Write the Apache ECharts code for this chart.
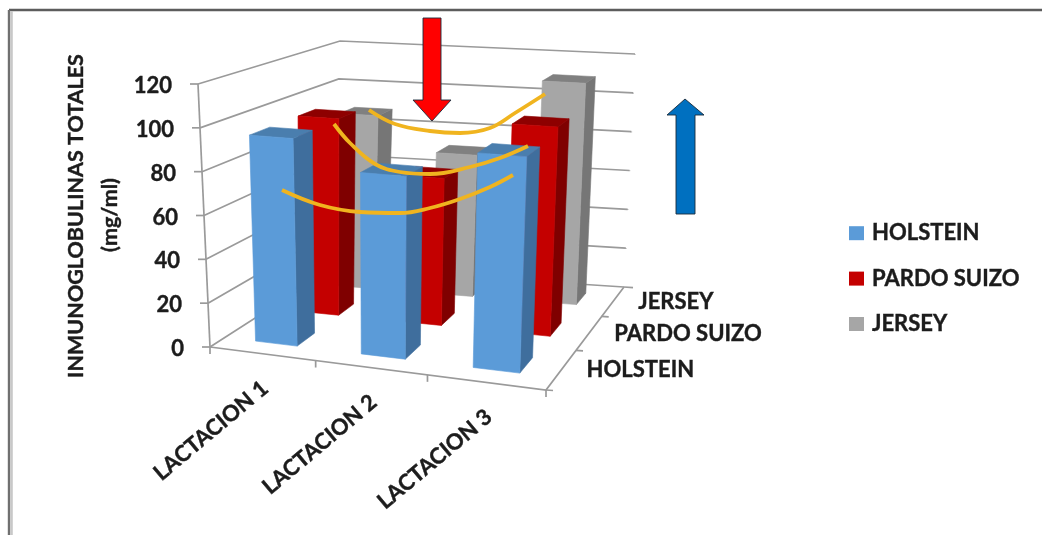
<!DOCTYPE html>
<html>
<head>
<meta charset="utf-8">
<style>html,body{margin:0;padding:0;background:#fff}#chart{width:1042px;height:535px}</style>
<script src="https://cdn.jsdelivr.net/npm/echarts@6/dist/echarts.min.js"></script>
</head>
<body>
<div id="chart"></div>
<script>
// Immunoglobulin levels per lactation and breed
const lactations = ['LACTACION 1', 'LACTACION 2', 'LACTACION 3'];
const breeds = ['HOLSTEIN', 'PARDO SUIZO', 'JERSEY'];
const holsteinValues = [95, 82, 95];
const pardoValues = [95, 70, 98];
const jerseyValues = [88, 71, 110];
const valueTicks = [0, 20, 40, 60, 80, 100, 120];

// Hand-drawn trend curves, in page units
const jerseyTrend = [[369,110],[395,124],[430,131],[460,133],[490,128],[515,113],[545,94]];
const pardoTrend = [[334,124],[350,143],[375,164],[400,172],[430,174],[470,167],[500,158],[528,146]];
const holsteinTrend = [[282,190],[320,205],[360,212],[400,213],[430,208],[460,199],[490,187],[513,175]];

const FONT = 'Lato, "Open Sans", sans-serif';
const TEXT_FONT = 'bold 22px ' + FONT;
const INK = '#1c1c1c';
const GRID = '#9a9a9a';
const TEXT_WEIGHT = { stroke: INK, lineWidth: 0.4 };

const PALETTE = {
  'HOLSTEIN': { front: '#5b9bd8', side: '#3f6e9d', top: '#4a7eae' },
  'PARDO SUIZO': { front: '#c40000', side: '#7f0000', top: '#8e0000' },
  'JERSEY': { front: '#a6a6a6', side: '#767676', top: '#808080' }
};

// Screen corners of the plot box: first letter = left/right, second = near/far, third = bottom/top
const BOX = {
  lnb: [210, 347], rnb: [546, 390], rfb: [624, 287], lfb: [333, 268],
  lnt: [198, 84], rnt: [557, 109], rft: [635, 54], lft: [340, 41]
};
const X_PERSPECTIVE = 1.09;
const DEPTH_PERSPECTIVE = 0.8;

function warp(t, r) { return t / (t + (1 - t) * r); }
function bilinear(a, b, c, d, s, t) {
  const f = i => a[i] * (1 - s) * (1 - t) + b[i] * s * (1 - t) + c[i] * s * t + d[i] * (1 - s) * t;
  return [f(0), f(1)];
}

// Takes a position on the hidden cartesian scales plus a depth in rows (0..3)
// and projects it onto the box drawn in perspective.
function project(params, api, x, depth, value) {
  const rect = params.coordSys;
  const p = api.coord([x, value]);
  const u = warp((p[0] - rect.x) / rect.width, X_PERSPECTIVE);
  const v = 1 - (p[1] - rect.y) / rect.height;
  const w = warp(depth / 3, DEPTH_PERSPECTIVE);
  const lo = bilinear(BOX.lnb, BOX.rnb, BOX.rfb, BOX.lfb, u, w);
  const hi = bilinear(BOX.lnt, BOX.rnt, BOX.rft, BOX.lft, u, w);
  return [lo[0] + (hi[0] - lo[0]) * v, lo[1] + (hi[1] - lo[1]) * v];
}

function line(points, width) {
  return { type: 'polyline', shape: { points }, style: { fill: null, stroke: GRID, lineWidth: width || 1.7 } };
}
function face(points, fill) {
  return { type: 'polygon', shape: { points }, style: { fill, stroke: fill, lineWidth: 0.6 } };
}

function barSeries(name, values) {
  const row = breeds.indexOf(name);
  const colors = PALETTE[name];
  return {
    type: 'custom', name, coordinateSystem: 'cartesian2d', xAxisIndex: 0, yAxisIndex: 0,
    itemStyle: { color: colors.front },
    silent: true,
    data: values.map((v, i) => [i, v]),
    encode: { x: 0, y: 1 },
    renderItem(params, api) {
      const i = api.value(0), val = api.value(1);
      const x0 = i + 0.3, x1 = i + 0.7, d0 = row + 0.3, d1 = row + 0.7;
      const P = (x, d, v) => project(params, api, x, d, v);
      return {
        type: 'group',
        children: [
          face([P(x1, d0, 0), P(x1, d1, 0), P(x1, d1, val), P(x1, d0, val)], colors.side),
          face([P(x0, d0, val), P(x1, d0, val), P(x1, d1, val), P(x0, d1, val)], colors.top),
          face([P(x0, d0, 0), P(x1, d0, 0), P(x1, d0, val), P(x0, d0, val)], colors.front)
        ]
      };
    }
  };
}

// Wall gridlines, axis lines and ticks
const wallSeries = {
  type: 'custom', coordinateSystem: 'cartesian2d', xAxisIndex: 0, yAxisIndex: 0, silent: true,
  data: valueTicks.map(v => [0, v]),
  encode: { x: 0, y: 1 },
  renderItem(params, api) {
    const v = api.value(1);
    const P = (x, d) => project(params, api, x, d, v);
    const a = P(0, 0), b = P(0, 3), c = P(3, 3);
    return {
      type: 'group',
      children: [
        line([a, b, c]),
        line([[a[0] - 8, a[1]], a]),
        line([c, [c[0] + (v === 0 ? 9 : 0), c[1] + 0.6]])
      ]
    };
  }
};

const floorSeries = {
  type: 'custom', coordinateSystem: 'cartesian2d', xAxisIndex: 0, yAxisIndex: 0, silent: true,
  data: [[0, 0]],
  encode: { x: 0, y: 1 },
  renderItem(params, api) {
    const P = (x, d, v) => project(params, api, x, d, v);
    const children = [
      line([P(0, 0, 0), P(0, 0, 120)]),
      line([P(0, 0, 0), P(3, 0, 0), P(3, 3, 0)])
    ];
    [0, 1, 2, 3].forEach(i => {
      const t = P(i, 0, 0);
      children.push(line([t, [t[0], t[1] + 7]]));
    });
    [0, 1, 2].forEach(d => {
      const t = P(3, d, 0);
      children.push(line([t, [t[0] + 7, t[1] + 0.5]]));
    });
    return { type: 'group', children };
  }
};

// Axis text, kept on the slanted axes
const valueLabelSeries = {
  type: 'custom', coordinateSystem: 'cartesian2d', xAxisIndex: 0, yAxisIndex: 0, silent: true,
  data: valueTicks.map(v => [0, v]),
  encode: { x: 0, y: 1 },
  renderItem(params, api) {
    const v = api.value(1);
    const p = project(params, api, 0, 0, v);
    return {
      type: 'text',
      style: Object.assign({ text: String(v), x: p[0] - 26, y: p[1] + 2, fill: INK, font: TEXT_FONT, align: 'right', verticalAlign: 'middle' }, TEXT_WEIGHT)
    };
  }
};
const lactationLabelSeries = {
  type: 'custom', coordinateSystem: 'cartesian2d', xAxisIndex: 0, yAxisIndex: 0, silent: true,
  data: lactations.map((c, i) => [i, 0]),
  encode: { x: 0, y: 1 },
  renderItem(params, api) {
    const i = api.value(0);
    const p = project(params, api, i + 0.5, 0, 0);
    return {
      type: 'text', x: p[0] - 51, y: p[1] + 77, rotation: 40 * Math.PI / 180,
      style: Object.assign({ text: lactations[i], x: 0, y: 0, fill: INK, font: TEXT_FONT, align: 'center', verticalAlign: 'middle' }, TEXT_WEIGHT)
    };
  }
};
const breedLabelSeries = {
  type: 'custom', coordinateSystem: 'cartesian2d', xAxisIndex: 0, yAxisIndex: 0, silent: true,
  data: breeds.map((c, i) => [3, i]),
  encode: { x: 0 },
  renderItem(params, api) {
    const d = params.dataIndex;
    const p = project(params, api, 3, d + 0.5, 0);
    return {
      type: 'text',
      style: Object.assign({ text: breeds[d], x: p[0] + 25, y: p[1] + 1, fill: INK, font: TEXT_FONT, align: 'left', verticalAlign: 'middle' }, TEXT_WEIGHT)
    };
  }
};

function trendSeries(points) {
  return {
    type: 'line', xAxisIndex: 1, yAxisIndex: 1, data: points, smooth: 0.4, symbol: 'none', silent: true,
    lineStyle: { color: '#f0b41f', width: 3.8 }, z: 5
  };
}

const arrowStyle = { stroke: '#1a2a3a', lineWidth: 0.9 };
const TITLE_FONT = 'bold 21.5px ' + FONT;

const option = {
  animation: false,
  backgroundColor: '#ffffff',
  grid: [
    { left: 100, top: 50, width: 400, height: 300 },
    { left: 0, top: 0, right: 0, bottom: 0 }
  ],
  xAxis: [
    { type: 'value', min: 0, max: 3, show: false, gridIndex: 0 },
    { type: 'value', min: 0, max: 1042, show: false, gridIndex: 1 }
  ],
  yAxis: [
    { type: 'value', min: 0, max: 120, interval: 20, show: false, gridIndex: 0 },
    { type: 'value', min: 0, max: 535, inverse: true, show: false, gridIndex: 1 }
  ],
  legend: {
    orient: 'vertical', left: 844, top: 217, icon: 'rect', itemWidth: 15, itemHeight: 14, itemGap: 23,
    data: breeds, selectedMode: false,
    textStyle: { color: INK, fontFamily: FONT, fontWeight: 'bold', fontSize: 22, padding: [0, 0, 0, 3], textBorderColor: INK, textBorderWidth: 0.4 }
  },
  graphic: [
    // outer frame
    { type: 'line', z: 1, shape: { x1: 9, y1: 10, x2: 1042, y2: 10 }, style: { stroke: '#5c5c5c', lineWidth: 2.4 } },
    { type: 'line', z: 1, shape: { x1: 9, y1: 10, x2: 9, y2: 535 }, style: { stroke: '#707070', lineWidth: 2.4 } },
    { type: 'line', z: 1, shape: { x1: 11.5, y1: 11, x2: 11.5, y2: 535 }, style: { stroke: '#c8c8c8', lineWidth: 2.6 } },
    // axis title
    { type: 'text', z: 6, x: 76, y: 216, rotation: Math.PI / 2, style: Object.assign({ text: 'INMUNOGLOBULINAS TOTALES', fill: INK, font: TITLE_FONT, align: 'center', verticalAlign: 'middle' }, TEXT_WEIGHT) },
    { type: 'text', z: 6, x: 110, y: 215, rotation: Math.PI / 2, style: Object.assign({ text: '(mg/ml)', fill: INK, font: TITLE_FONT, align: 'center', verticalAlign: 'middle' }, TEXT_WEIGHT) },
    // red arrow: fall in the second lactation
    { type: 'polygon', z: 6, shape: { points: [[423, 18], [441, 18], [441, 100], [451, 100], [432, 121], [413, 100], [423, 100]] }, style: Object.assign({ fill: '#ff0000' }, arrowStyle) },
    // blue arrow: rise towards the third
    { type: 'polygon', z: 6, shape: { points: [[685, 99], [704, 115], [695, 115], [695, 214], [676, 214], [676, 115], [667, 115]] }, style: Object.assign({ fill: '#0070c0' }, arrowStyle) }
  ],
  series: [
    wallSeries,
    floorSeries,
    barSeries('JERSEY', jerseyValues),
    barSeries('PARDO SUIZO', pardoValues),
    barSeries('HOLSTEIN', holsteinValues),
    valueLabelSeries,
    lactationLabelSeries,
    breedLabelSeries,
    trendSeries(jerseyTrend),
    trendSeries(pardoTrend),
    trendSeries(holsteinTrend)
  ]
};

const chart = echarts.init(document.getElementById('chart'), null, { renderer: 'canvas' });
chart.setOption(option);
</script>
</body>
</html>
